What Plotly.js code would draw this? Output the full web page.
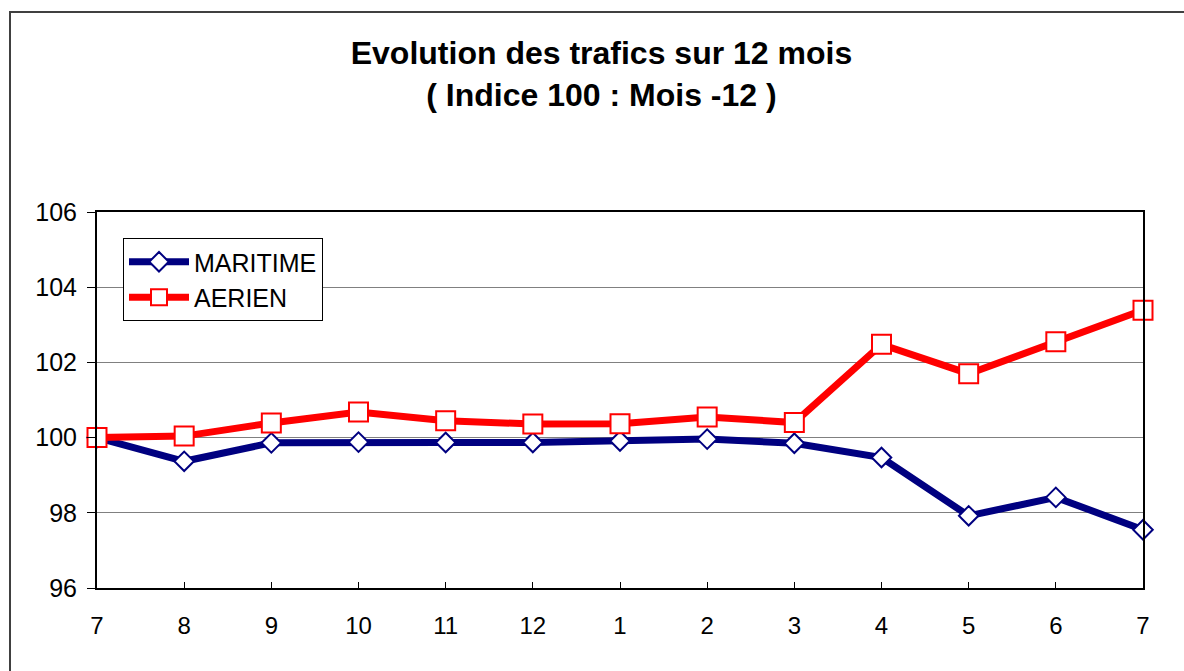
<!DOCTYPE html>
<html>
<head>
<meta charset="utf-8">
<script src="https://cdn.plot.ly/plotly-3.0.1.min.js"></script>
<style>
  html, body { margin: 0; padding: 0; background: #fff; }
  #chart { width: 1184px; height: 671px; }
</style>
</head>
<body>
<div id="chart"></div>
<script>
// Data
const monthPositions = [0, 1, 2, 3, 4, 5, 6, 7, 8, 9, 10, 11, 12];
const monthLabels = ["7", "8", "9", "10", "11", "12", "1", "2", "3", "4", "5", "6", "7"];
const maritime = [100.0, 99.37, 99.86, 99.88, 99.87, 99.87, 99.91, 99.96, 99.85, 99.47, 97.92, 98.41, 97.55];
const aerien   = [100.0, 100.04, 100.39, 100.68, 100.45, 100.36, 100.37, 100.55, 100.40, 102.48, 101.70, 102.55, 103.39];
const yTicks = [96, 98, 100, 102, 104, 106];

const FONT = "Arial, 'Liberation Sans', sans-serif";

const traces = [
  {
    x: monthPositions, y: maritime, name: "MARITIME",
    type: "scatter", mode: "lines+markers",
    line: { color: "#000080", width: 7 },
    marker: { symbol: "diamond", size: 15, color: "#ffffff", line: { color: "#000080", width: 2 } },
    cliponaxis: false
  },
  {
    x: monthPositions, y: aerien, name: "AERIEN",
    type: "scatter", mode: "lines+markers",
    line: { color: "#ff0000", width: 7 },
    marker: { symbol: "square", size: 19, color: "#ffffff", line: { color: "#ff0000", width: 2 } },
    cliponaxis: false
  }
];

const L = 97, R = 1143, T = 212, B = 588, W = 1184, H = 671;
const pw = R - L, ph = B - T;
const px = v => (v - L) / pw;
const py = v => (B - v) / ph;

const layout = {
  width: W, height: H,
  margin: { l: L, r: W - R, t: T, b: H - B, pad: 0 },
  paper_bgcolor: "#ffffff",
  plot_bgcolor: "#ffffff",
  font: { family: FONT, size: 24, color: "#000000" },
  showlegend: true,
  title: {
    text: "<b>Evolution des trafics sur 12 mois<br>( Indice 100 : Mois -12 )</b>",
    font: { family: FONT, size: 32, color: "#000000" },
    x: 0.508, xanchor: "center",
    y: 1 - 64 / H, yanchor: "middle"
  },
  xaxis: {
    range: [0, 12],
    tickmode: "array", tickvals: monthPositions, ticktext: monthLabels,
    ticks: "inside", ticklen: 6, tickwidth: 1, tickcolor: "#000000",
    showgrid: false, zeroline: false,
    showline: true, linecolor: "#000000", linewidth: 2, mirror: true,
    tickfont: { family: FONT, size: 24, color: "#000000" },
    ticklabelstandoff: 15,
    fixedrange: true
  },
  yaxis: {
    range: [96, 106],
    tickmode: "array", tickvals: yTicks, ticktext: yTicks.map(String),
    ticks: "outside", ticklen: 8, tickwidth: 1, tickcolor: "#000000",
    showgrid: true, gridcolor: "#808080", gridwidth: 1,
    zeroline: false,
    showline: true, linecolor: "#000000", linewidth: 2, mirror: true,
    tickfont: { family: FONT, size: 25, color: "#000000" },
    ticklabelstandoff: 5,
    fixedrange: true
  },
  legend: {
    x: px(123), y: py(238), xanchor: "left", yanchor: "top",
    bgcolor: "#ffffff", bordercolor: "#000000", borderwidth: 1,
    font: { family: FONT, size: 25, color: "#000000" },
    itemwidth: 60, tracegroupgap: 0,
    traceorder: "normal"
  },
  shapes: [
    {
      type: "rect", xref: "paper", yref: "paper", layer: "below",
      x0: px(10), x1: px(1195), y0: py(690), y1: py(12),
      line: { color: "#404040", width: 2 }, fillcolor: "rgba(0,0,0,0)"
    }
  ]
};

Plotly.newPlot("chart", traces, layout, { staticPlot: true, displayModeBar: false });
</script>
</body>
</html>
